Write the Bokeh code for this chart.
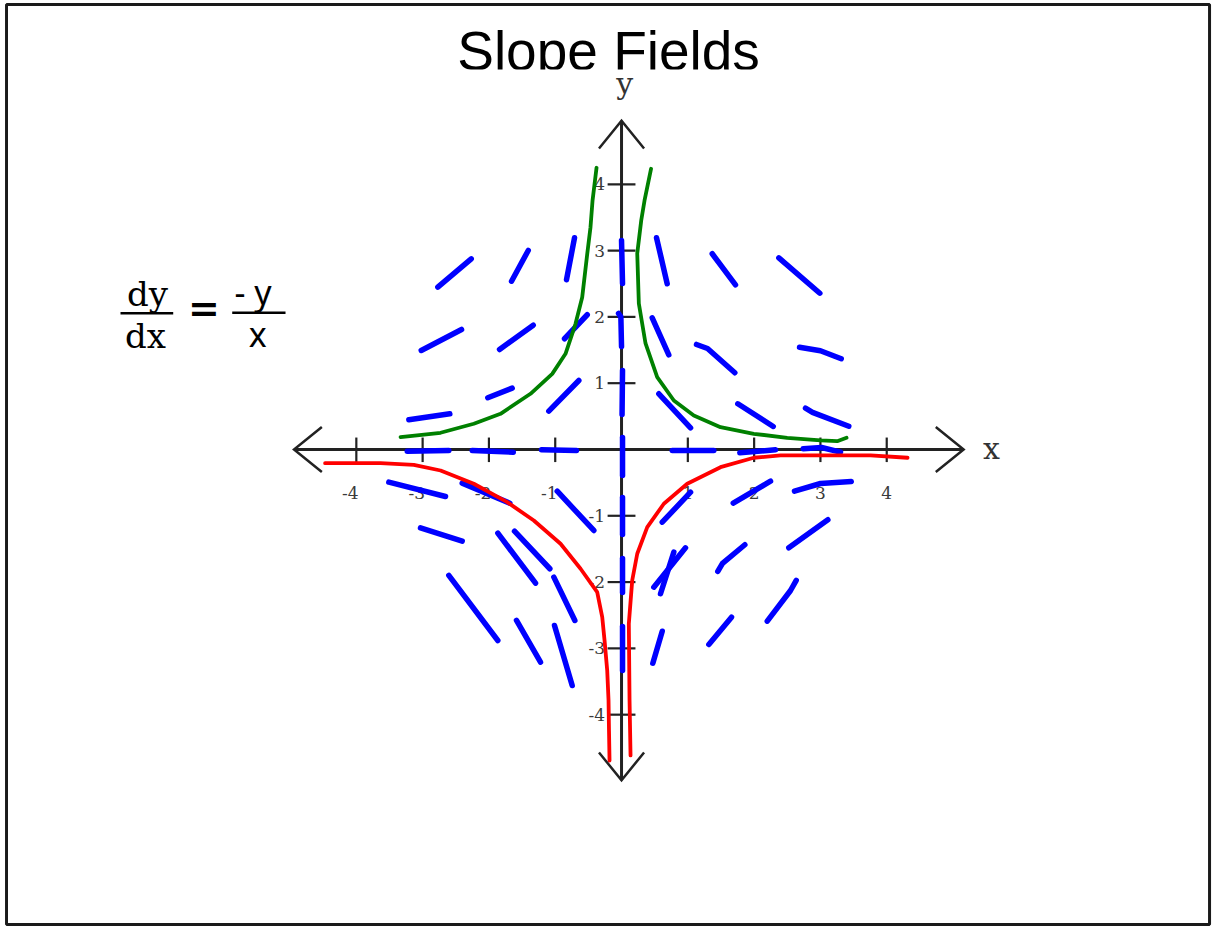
from bokeh.plotting import figure
from bokeh.models import Range1d
from bokeh.core.properties import value
from bokeh.embed import file_html
from bokeh.resources import INLINE

# ---------------- data (graph units) ----------------
# hand-drawn slope marks for dy/dx = -y/x, each a short stroke
slope_xs = [
    [-2.771, -2.267], [-1.659, -1.407], [-0.830, -0.709],
    [-3.021, -2.413], [-1.840, -1.332], [-0.860, -0.517],
    [-3.208, -2.590], [-2.017, -1.649], [-1.097, -0.644],
    [-3.232, -2.605], [-2.252, -1.633], [-1.207, -0.679],
    [0.0, 0.015], [-0.045, -0.01, 0.0], [0.015, 0.008], [0.015, 0.015],
    [0.015, 0.015], [0.015, 0.015], [0.015, 0.015],
    [0.528, 0.689], [1.368, 1.719], [2.373, 2.991],
    [0.463, 0.713], [1.131, 1.297, 1.709], [2.685, 3.000, 3.314],
    [0.563, 1.041], [1.754, 2.288], [2.775, 2.880, 3.428],
    [0.765, 1.392], [1.784, 2.323], [2.741, 3.017, 3.303],
    [-3.510, -2.655], [-2.403, -1.685], [-0.970, -0.418],
    [-3.032, -2.403], [-1.866, -1.297], [-1.614, -1.081],
    [-1.021, -0.704], [-2.605, -1.866], [-1.584, -1.222], [-1.011, -0.744],
    [0.614, 1.041], [1.685, 2.247], [2.609, 3.002, 3.465],
    [0.487, 0.965], [0.588, 0.789], [1.452, 1.523, 1.860], [2.523, 3.112],
    [0.472, 0.614], [1.317, 1.659], [2.198, 2.549, 2.635],
]
slope_ys = [
    [2.448, 2.876], [2.538, 3.002], [2.560, 3.193],
    [1.493, 1.810], [1.508, 1.875], [1.670, 2.032],
    [0.448, 0.538], [0.780, 0.925], [0.578, 1.041],
    [-0.026, -0.015], [-0.015, -0.041], [-0.005, -0.015],
    [3.152, 2.504], [2.051, 2.0, 1.554], [1.192, 0.528], [0.181, -0.392],
    [-0.724, -1.282], [-1.644, -2.157], [-2.670, -3.333],
    [3.193, 2.499], [2.952, 2.484], [2.891, 2.357],
    [1.986, 1.428], [1.584, 1.523, 1.157], [1.543, 1.490, 1.368],
    [0.840, 0.327], [0.689, 0.347], [0.623, 0.560, 0.351],
    [-0.015, -0.015], [-0.050, -0.005], [0.011, 0.030, -0.041],
    [-0.493, -0.709], [-0.508, -0.810], [-0.629, -1.222],
    [-1.181, -1.383], [-1.262, -2.017], [-1.232, -1.799],
    [-1.926, -2.579], [-1.900, -2.881], [-2.579, -3.208], [-2.655, -3.560],
    [-1.097, -0.644], [-0.810, -0.478], [-0.629, -0.513, -0.483],
    [-2.077, -1.483], [-2.176, -1.549], [-1.840, -1.719, -1.437], [-1.483, -1.060],
    [-3.223, -2.741], [-2.941, -2.529], [-2.590, -2.127, -1.976],
]

# green solution curves (y = C/x, C > 0)
green_left_x = [-0.377, -0.437, -0.468, -0.517, -0.593, -0.694, -0.845, -1.045,
                -1.373, -1.825, -2.228, -2.730, -3.333]
green_left_y = [4.249, 3.756, 3.353, 2.952, 2.297, 1.896, 1.443, 1.141,
                0.840, 0.538, 0.388, 0.252, 0.186]
green_right_x = [0.445, 0.347, 0.297, 0.237, 0.261, 0.362, 0.538, 0.789, 1.090,
                 1.493, 1.995, 2.499, 3.002, 3.253, 3.394]
green_right_y = [4.234, 3.756, 3.454, 2.956, 2.202, 1.599, 1.091, 0.739, 0.513,
                 0.336, 0.237, 0.176, 0.136, 0.125, 0.176]

# red solution curves
red_left_x = [-4.471, -3.635, -3.133, -2.730, -2.228, -1.724, -1.323, -0.920,
              -0.618, -0.367, -0.291, -0.256, -0.216, -0.196, -0.189, -0.181]
red_left_y = [-0.207, -0.207, -0.231, -0.317, -0.517, -0.795, -1.071, -1.422,
              -1.799, -2.152, -2.529, -2.881, -3.333, -3.786, -4.238, -4.691]
red_right_x = [0.136, 0.121, 0.110, 0.161, 0.237, 0.388, 0.638, 0.991, 1.493,
               1.995, 2.398, 3.756, 4.314]
red_right_y = [-4.615, -3.786, -2.629, -1.976, -1.573, -1.172, -0.819, -0.517,
               -0.267, -0.125, -0.090, -0.090, -0.125]

tick_values = [-4, -3, -2, -1, 1, 2, 3, 4]
tick_labels = ["-4", "-3", "-2", "-1", "1", "2", "3", "4"]

# axis extents (graph units)
X_LEFT, X_RIGHT = -4.94, 5.16
Y_BOTTOM, Y_TOP = -4.99, 4.96

# ---------------- figure ----------------
p = figure(width=1217, height=926, output_backend="svg", toolbar_location=None,
           x_axis_type=None, y_axis_type=None,
           x_range=Range1d(-9.367, 8.989), y_range=Range1d(-7.195, 6.772),
           min_border=0)
p.xgrid.visible = False
p.ygrid.visible = False
p.background_fill_color = "white"
p.border_fill_color = "white"
p.outline_line_color = None

AX = "#222222"
SERIF = value("DejaVu Serif")

# slide frame
p.quad(left=[-9.276], right=[8.869], top=[6.712], bottom=[-7.164],
       fill_color=None, line_color="#1a1a1a", line_width=3)

# axes
p.segment(x0=[X_LEFT, 0], y0=[0, Y_BOTTOM], x1=[X_RIGHT, 0], y1=[0, Y_TOP],
          line_color=AX, line_width=3)
ah = 0.42
aw = 0.34
p.multi_line(xs=[[X_LEFT + ah, X_LEFT, X_LEFT + ah], [X_RIGHT - ah, X_RIGHT, X_RIGHT - ah],
                 [-aw, 0, aw], [-aw, 0, aw]],
             ys=[[aw, 0, -aw], [aw, 0, -aw],
                 [Y_TOP - ah, Y_TOP, Y_TOP - ah], [Y_BOTTOM + ah, Y_BOTTOM, Y_BOTTOM + ah]],
             line_color=AX, line_width=2.5, line_join="miter")

# ticks
p.segment(x0=tick_values, y0=[-0.19] * 8, x1=tick_values, y1=[0.18] * 8,
          line_color=AX, line_width=2.2)
p.segment(x0=[-0.21] * 8, y0=tick_values, x1=[0.21] * 8, y1=tick_values,
          line_color=AX, line_width=2.2)

# tick labels
p.text(x=[v - 0.09 if v < 0 else v for v in tick_values], y=[-0.65] * 8, text=tick_labels,
       text_align="center", text_baseline="middle", text_font=SERIF,
       text_font_size="17px", text_color="#3a3a3a")
p.text(x=[-0.25] * 8, y=tick_values, text=tick_labels,
       text_align="right", text_baseline="middle", text_font=SERIF,
       text_font_size="17px", text_color="#3a3a3a")

# slope marks
p.multi_line(xs=slope_xs, ys=slope_ys, line_color="#0000ff", line_width=5.5,
             line_cap="round", line_join="round")

# solution curves
p.line(green_left_x, green_left_y, line_color="#008000", line_width=3.8, line_cap="round")
p.line(green_right_x, green_right_y, line_color="#008000", line_width=3.8, line_cap="round")
p.line(red_left_x, red_left_y, line_color="#ff0000", line_width=3.8, line_cap="round")
p.line(red_right_x, red_right_y, line_color="#ff0000", line_width=3.8, line_cap="round")

# title (clipped at its baseline as in the source slide)
p.text(x=[-0.196], y=[6.013], text=["Slope Fields"], text_align="center",
       text_baseline="middle", text_font=value("Liberation Sans"),
       text_font_size="55px", text_color="black")
p.quad(left=[-2.504], right=[2.172], top=[5.731], bottom=[5.400],
       fill_color="white", line_color=None)

# axis names
p.text(x=[0.05], y=[5.526], text=["y"], text_align="center", text_baseline="middle",
       text_font=SERIF, text_font_size="30px", text_color="#333333")
p.text(x=[5.58], y=[0.02], text=["x"], text_align="center", text_baseline="middle",
       text_font=SERIF, text_font_size="30px", text_color="#333333")

# equation dy/dx = -y/x
p.text(x=[-7.149, -7.179], y=[2.350, 1.716], text=["dy", "dx"], text_align="center",
       text_baseline="middle", text_font=SERIF, text_font_size="34px",
       text_color="black")
p.text(x=[-6.300], y=[2.134], text=["="], text_align="center", text_baseline="middle",
       text_font=value("DejaVu Sans"), text_font_style="bold", text_font_size="38px",
       text_color="black")
p.text(x=[-5.558, -5.486], y=[2.371, 1.742], text=["- y", "x"], text_align="center",
       text_baseline="middle", text_font=value("Noto Sans"), text_font_size="34px",
       text_color="black")
p.segment(x0=[-7.557, -5.872], y0=[2.056, 2.062], x1=[-6.762, -5.068], y1=[2.056, 2.062],
          line_color="black", line_width=2.5)

open("out.html", "w").write(file_html(p, INLINE))
